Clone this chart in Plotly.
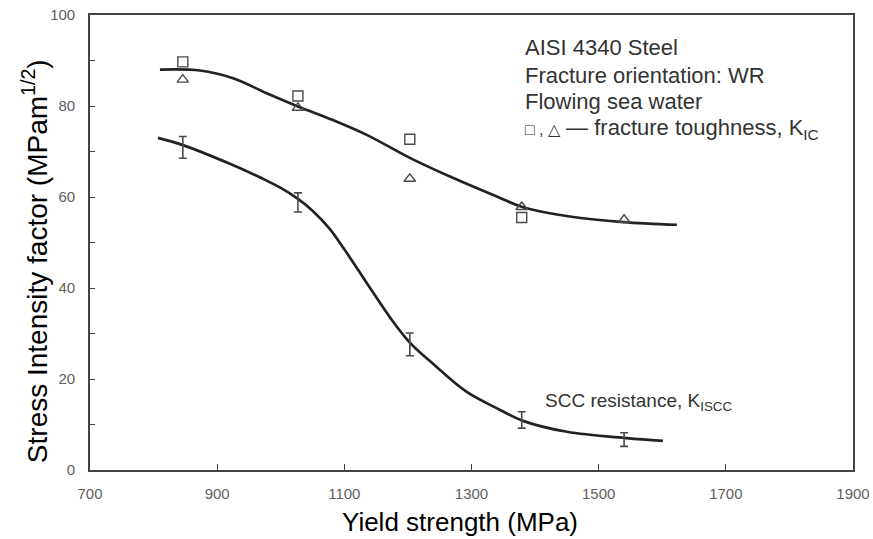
import plotly.graph_objects as go

# Fracture toughness K_IC data (open squares / open triangles)
kic_sq_x = [846, 1027, 1203, 1379]
kic_sq_y = [89.7, 82.2, 72.7, 55.5]
kic_tri_x = [846, 1027, 1203, 1379, 1540]
kic_tri_y = [85.8, 79.6, 64.0, 57.8, 55.0]

# Fitted K_IC trend curve
kic_fit_x = [810, 873, 925, 978, 1027, 1082, 1136, 1203, 1266, 1345, 1380, 1460, 1538, 1623]
kic_fit_y = [88.0, 87.8, 86.1, 82.8, 79.9, 76.9, 73.6, 68.6, 64.5, 59.8, 57.8, 55.6, 54.5, 53.9]

# SCC resistance K_ISCC (mean with scatter band)
kiscc_x = [846, 1027, 1203, 1379, 1540]
kiscc_y = [70.9, 58.8, 27.6, 11.0, 6.7]
kiscc_err = [2.4, 2.1, 2.5, 1.8, 1.5]

# Fitted K_ISCC trend curve
kiscc_fit_x = [807, 846, 920, 972, 1000, 1027, 1050, 1077, 1100, 1124, 1150, 1172, 1203,
               1239, 1292, 1345, 1381, 1450, 1544, 1601]
kiscc_fit_y = [73.0, 71.4, 67.3, 64.0, 62.0, 59.6, 57.0, 53.0, 48.5, 43.5, 38.0, 33.5, 28.0,
               23.4, 17.2, 13.2, 10.8, 8.4, 7.0, 6.4]

x_ticks = [700, 900, 1100, 1300, 1500, 1700, 1900]
y_ticks = [0, 10, 20, 30, 40, 50, 60, 70, 80, 90, 100]
y_labels = ["0", "", "20", "", "40", "", "60", "", "80", "", "100"]

ink = "#222222"
frame = "#444444"
mark = "#4a4a4a"
sans = "Liberation Sans, Arial, Helvetica, sans-serif"

fig = go.Figure()

for fx, fy in [(kic_fit_x, kic_fit_y), (kiscc_fit_x, kiscc_fit_y)]:
    fig.add_trace(go.Scatter(
        x=fx, y=fy, mode="lines",
        line=dict(color=ink, width=2.7, shape="spline", smoothing=1.0),
        hoverinfo="skip", showlegend=False))

fig.add_trace(go.Scatter(
    x=kic_sq_x, y=kic_sq_y, mode="markers",
    marker=dict(symbol="square-open", size=10, color=mark, line=dict(width=1.4, color=mark)),
    showlegend=False))

fig.add_trace(go.Scatter(
    x=kic_tri_x, y=kic_tri_y, mode="markers",
    marker=dict(symbol="triangle-up-open", size=10, color=mark, line=dict(width=1.4, color=mark)),
    showlegend=False))

fig.add_trace(go.Scatter(
    x=kiscc_x, y=kiscc_y, mode="markers",
    marker=dict(size=2, color="rgba(0,0,0,0)"),
    error_y=dict(type="data", array=kiscc_err, visible=True,
                 color=mark, thickness=1.6, width=4),
    showlegend=False))

txt_font = dict(family=sans, size=22, color="#333333")

info_lines = [
    "AISI 4340 Steel",
    "Fracture orientation: WR",
    "Flowing sea water",
    "<span style=\"font-size:16px\">□ , △</span> — fracture toughness, K<sub>IC</sub>",
]
info_y = [0.9275, 0.8681, 0.8088, 0.7495]
for t, yy in zip(info_lines, info_y):
    fig.add_annotation(
        x=0.5675, y=yy, xref="paper", yref="paper",
        xanchor="left", yanchor="middle", showarrow=False,
        text=t, font=txt_font)

fig.add_annotation(
    x=0.5937, y=0.1495, xref="paper", yref="paper",
    xanchor="left", yanchor="middle", showarrow=False,
    text="SCC resistance, K<sub>ISCC</sub>",
    font=dict(family=sans, size=19, color="#333333"))

# Axis titles
fig.add_annotation(
    x=-0.0721, y=0.459, xref="paper", yref="paper",
    xanchor="center", yanchor="middle", showarrow=False, textangle=-90,
    text="Stress Intensity factor (MPam<sup>1/2</sup>)",
    font=dict(family=sans, size=28, color="#000000"))

fig.add_annotation(
    x=0.4855, y=-0.1136, xref="paper", yref="paper",
    xanchor="center", yanchor="middle", showarrow=False,
    text="Yield strength (MPa)",
    font=dict(family=sans, size=26, color="#000000"))

tick_font = dict(family=sans, size=15, color="#606060")

fig.update_xaxes(
    range=[700, 1900], tickvals=x_ticks, automargin=False,
    ticks="inside", ticklen=6, tickwidth=1.2, tickcolor=frame,
    ticklabelstandoff=9,
    showline=True, linecolor=frame, linewidth=1.6, mirror=True,
    showgrid=False, zeroline=False, tickfont=tick_font)

fig.update_yaxes(
    range=[0, 100], tickvals=y_ticks, ticktext=y_labels, automargin=False,
    ticks="inside", ticklen=5, tickwidth=1.2, tickcolor=frame,
    ticklabelstandoff=10,
    showline=True, linecolor=frame, linewidth=1.6, mirror=True,
    showgrid=False, zeroline=False, tickfont=tick_font)

fig.update_layout(
    width=873, height=539,
    margin=dict(l=90, r=20, t=15, b=69),
    paper_bgcolor="white", plot_bgcolor="white",
    showlegend=False)

fig.write_html("out.html", include_plotlyjs=True, full_html=True,
               config={"displayModeBar": False})
